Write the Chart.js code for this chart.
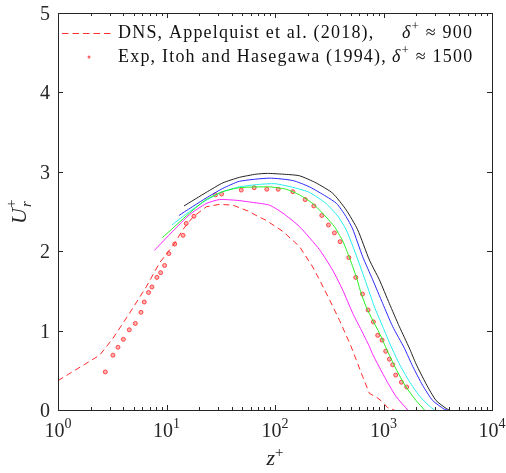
<!DOCTYPE html>
<html>
<head>
<meta charset="utf-8">
<script src="https://cdn.jsdelivr.net/npm/chart.js@4"></script>
<style>
  body { margin: 0; background: #fff; }
  #wrap { width: 506px; height: 473px; }
</style>
</head>
<body>
<div id="wrap"><canvas id="chart" width="506" height="473"></canvas></div>
<script>
// tick values
const xTicks = [1, 10, 100, 1000, 10000];
const yTicks = [0, 1, 2, 3, 4, 5];

// DNS, Appelquist et al. (2018)
const zDns = [1, 2.42, 3.2, 4.57, 6.5, 8.6, 11.9, 14.1, 17.5, 23.3, 30.8, 40.9, 58, 69, 82.6, 118, 168, 223, 257, 318, 393, 503, 643, 741, 885, 984, 1088, 1260];
const uDns = [0.37, 0.69, 0.9, 1.22, 1.55, 1.85, 2.1, 2.27, 2.43, 2.56, 2.59, 2.58, 2.5, 2.44, 2.39, 2.25, 2.06, 1.8, 1.64, 1.39, 1.13, 0.8, 0.42, 0.21, 0.15, 0.1, 0.03, 0];

// Exp, Itoh and Hasegawa (1994)
const zExp = [2.73, 3.21, 3.57, 4.0, 4.54, 5.16, 5.82, 6.24, 6.84, 7.34, 8.16, 8.83, 9.6, 10.5, 11.9, 14.2, 15.2, 17.9, 28.3, 32.2, 48.9, 64.3, 84, 107, 146, 190, 228, 270, 311, 353, 398, 479, 555, 640, 721, 807, 885, 970, 1048, 1133, 1216, 1295, 1461, 1636];
const uExp = [0.48, 0.69, 0.79, 0.89, 1.01, 1.09, 1.23, 1.36, 1.48, 1.55, 1.67, 1.73, 1.82, 1.97, 2.09, 2.2, 2.35, 2.44, 2.71, 2.72, 2.77, 2.8, 2.78, 2.78, 2.75, 2.65, 2.57, 2.45, 2.33, 2.23, 2.12, 1.92, 1.67, 1.46, 1.26, 1.11, 0.94, 0.88, 0.74, 0.64, 0.57, 0.44, 0.35, 0.29];

// model curves
const zMag = [7.73, 11.4, 16.3, 23.2, 30.8, 45, 58, 89, 118, 168, 257, 340, 421, 520, 622, 741, 795, 1057, 1306, 1671];
const uMag = [2.01, 2.25, 2.46, 2.6, 2.65, 2.64, 2.62, 2.58, 2.48, 2.31, 2.02, 1.76, 1.51, 1.22, 1.01, 0.8, 0.7, 0.38, 0.17, 0];

const zGrn = [9.15, 16.3, 23.2, 33, 47, 89, 127, 168, 223, 296, 353, 393, 421, 479, 560, 622, 692, 795, 916, 1057, 1300, 1614, 1995, 2388];
const uGrn = [2.17, 2.48, 2.65, 2.75, 2.8, 2.81, 2.78, 2.71, 2.6, 2.43, 2.31, 2.2, 2.13, 1.94, 1.68, 1.47, 1.3, 1.13, 0.97, 0.78, 0.52, 0.29, 0.12, 0];

const zCyn = [11.2, 16.3, 23.2, 33, 47, 70, 100, 150, 208, 296, 380, 453, 560, 692, 824, 984, 1175, 1400, 1730, 2138, 2640, 2944];
const uCyn = [2.33, 2.5, 2.64, 2.75, 2.81, 2.84, 2.85, 2.8, 2.74, 2.6, 2.44, 2.27, 1.95, 1.6, 1.3, 1.05, 0.8, 0.58, 0.36, 0.18, 0.05, 0];

const zBlu = [13, 23.2, 33, 47, 89, 146, 208, 296, 370, 450, 520, 643, 795, 984, 1216, 1556, 1858, 2296, 2838, 3630, 3900];
const uBlu = [2.45, 2.67, 2.79, 2.88, 2.92, 2.89, 2.81, 2.69, 2.6, 2.44, 2.28, 1.93, 1.64, 1.34, 1.05, 0.78, 0.55, 0.31, 0.12, 0.01, 0];

const zBlk = [14.5, 23.2, 33, 47, 67, 85, 118, 168, 239, 340, 453, 578, 741, 916, 1133, 1400, 1730, 1995, 2467, 3050, 3774, 4045];
const uBlk = [2.57, 2.74, 2.86, 2.93, 2.97, 2.98, 2.97, 2.95, 2.86, 2.73, 2.52, 2.27, 1.89, 1.64, 1.34, 1.05, 0.78, 0.58, 0.33, 0.12, 0.02, 0];

function pts(xs, ys) {
  return xs.map((x, i) => ({ x: x, y: ys[i] }));
}

function curve(xs, ys, color) {
  return {
    data: pts(xs, ys),
    borderColor: color,
    borderWidth: 1,
    pointRadius: 0,
    fill: false,
    tension: 0.2,
  };
}

const serif = "'Liberation Serif', 'Times New Roman', serif";

// draw a run of text pieces, each {t, size, italic, dy}
function drawRun(ctx, parts, x, y, align) {
  let total = 0;
  parts.forEach((p) => {
    ctx.font = (p.italic ? "italic " : "") + p.size + "px " + serif;
    p.w = ctx.measureText(p.t).width;
    total += p.w;
  });
  let cx = align === "center" ? x - total / 2 : align === "right" ? x - total : x;
  parts.forEach((p) => {
    ctx.font = (p.italic ? "italic " : "") + p.size + "px " + serif;
    ctx.fillText(p.t, cx, y + (p.dy || 0));
    cx += p.w;
  });
}

const axesPlugin = {
  id: "axesPlugin",
  afterDraw(chart) {
    const ctx = chart.ctx;
    const a = chart.chartArea;
    const xs = chart.scales.x;
    const ys = chart.scales.y;
    ctx.save();
    ctx.strokeStyle = "#262626";
    ctx.fillStyle = "#262626";
    ctx.lineWidth = 1;

    // box
    ctx.strokeRect(Math.round(a.left) + 0.5, Math.round(a.top) + 0.5, Math.round(a.right - a.left), Math.round(a.bottom - a.top));

    // x ticks (major + minor), inward, top and bottom
    ctx.beginPath();
    for (let d = 0; d < xTicks.length; d++) {
      for (let m = 1; m <= 9; m++) {
        const v = xTicks[d] * m;
        if (v > xTicks[xTicks.length - 1]) break;
        const px = Math.round(xs.getPixelForValue(v)) + 0.5;
        const len = m === 1 ? 5 : 3;
        ctx.moveTo(px, a.bottom);
        ctx.lineTo(px, a.bottom - len);
        ctx.moveTo(px, a.top);
        ctx.lineTo(px, a.top + len);
      }
    }
    // y ticks
    yTicks.forEach((v) => {
      const py = Math.round(ys.getPixelForValue(v)) + 0.5;
      ctx.moveTo(a.left, py);
      ctx.lineTo(a.left + 5, py);
      ctx.moveTo(a.right, py);
      ctx.lineTo(a.right - 5, py);
    });
    ctx.stroke();

    // y tick labels
    ctx.textBaseline = "alphabetic";
    yTicks.forEach((v) => {
      const py = ys.getPixelForValue(v);
      drawRun(ctx, [{ t: String(v), size: 20 }], a.left - 8, py + 7, "right");
    });

    // x tick labels 10^n
    xTicks.forEach((v, i) => {
      const px = xs.getPixelForValue(v);
      drawRun(ctx, [{ t: "10", size: 20 }, { t: String(i), size: 14, dy: -9 }], px, a.bottom + 27, "center");
    });

    // x axis title
    drawRun(ctx, [{ t: "z", size: 22, italic: true }, { t: "+", size: 15, dy: -8 }], (a.left + a.right) / 2, 465, "center");

    // y axis title
    ctx.save();
    ctx.translate(26, (a.top + a.bottom) / 2);
    ctx.rotate(-Math.PI / 2);
    ctx.font = "italic 22px " + serif;
    const uw = ctx.measureText("U").width;
    const x0 = -(uw + 9) / 2;
    ctx.fillText("U", x0, 0);
    ctx.font = "italic 15px " + serif;
    ctx.fillText("r", x0 + uw + 1, 5);
    ctx.font = "15px " + serif;
    ctx.fillText("+", x0 + uw, -10);
    ctx.restore();

    // legend samples
    ctx.fillStyle = "#ff3030";
    for (let lx = 62; lx < 114; lx += 10.5) {
      ctx.fillRect(lx, 33, 6.5, 1);
    }
    ctx.fillStyle = "rgba(255,60,60,0.8)";
    ctx.beginPath();
    ctx.arc(89, 57, 1.5, 0, Math.PI * 2);
    ctx.fill();

    ctx.fillStyle = "#111";
    ctx.letterSpacing = "1.2px";
    drawRun(ctx, [{ t: "DNS, Appelquist et al. (2018),", size: 18 }], 118, 38, "left");
    drawRun(ctx, [{ t: "δ", size: 18, italic: true }, { t: "+", size: 13, dy: -8 }, { t: " ≈ 900", size: 18 }], 402, 38, "left");
    drawRun(ctx, [{ t: "Exp, Itoh and Hasegawa (1994),", size: 18 }], 118, 62, "left");
    drawRun(ctx, [{ t: "δ", size: 18, italic: true }, { t: "+", size: 13, dy: -8 }, { t: " ≈ 1500", size: 18 }], 392, 62, "left");
    ctx.letterSpacing = "0px";

    ctx.restore();
  },
};

new Chart(document.getElementById("chart"), {
  type: "line",
  data: {
    datasets: [
      {
        data: pts(zDns, uDns),
        borderColor: "#ff2a2a",
        borderWidth: 1,
        borderDash: [6, 4],
        pointRadius: 0,
        fill: false,
      },
      curve(zMag, uMag, "#ff22ff"),
      curve(zGrn, uGrn, "#22ee22"),
      curve(zCyn, uCyn, "#22eeee"),
      curve(zBlu, uBlu, "#2a2aff"),
      curve(zBlk, uBlk, "#222222"),
      {
        data: pts(zExp, uExp),
        showLine: false,
        pointRadius: 2,
        pointBorderWidth: 1,
        pointBorderColor: "rgba(255,40,40,0.8)",
        pointBackgroundColor: "rgba(255,120,120,0.6)",
      },
    ],
  },
  options: {
    responsive: false,
    animation: false,
    devicePixelRatio: 1,
    layout: { padding: { left: 58, right: 14, top: 13, bottom: 63 } },
    plugins: { legend: { display: false }, tooltip: { enabled: false } },
    scales: {
      x: { type: "logarithmic", min: 1, max: 10000, display: false },
      y: { type: "linear", min: 0, max: 5, display: false },
    },
  },
  plugins: [axesPlugin],
});
</script>
</body>
</html>
